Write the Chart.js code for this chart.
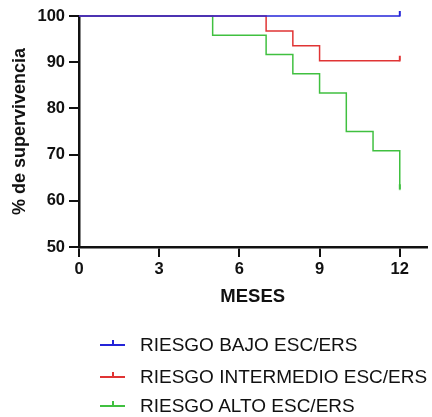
<!DOCTYPE html>
<html>
<head>
<meta charset="utf-8">
<script src="https://cdn.jsdelivr.net/npm/chart.js@4"></script>
<style>
  html, body { margin: 0; padding: 0; background: #fff; }
  #wrap { position: relative; width: 432px; height: 417px; }
  #c { position: absolute; left: 0; top: 0; }
  .leg { position: absolute; left: 100px; height: 24px; display: flex; align-items: center;
         font-family: "Liberation Sans", Arial, sans-serif; font-size: 19px; color: #111; white-space: nowrap; }
  .mk { position: relative; width: 25px; height: 2px; margin-right: 15px; }
  .mk::after { content: ""; position: absolute; left: 12px; top: -4px; width: 2px; height: 5px; background: inherit; }
</style>
</head>
<body>
<div id="wrap">
  <canvas id="c" width="432" height="417"></canvas>
  <div id="legend"></div>
</div>
<script>
// ---- data ----
const seriesNames = ["RIESGO BAJO ESC/ERS", "RIESGO INTERMEDIO ESC/ERS", "RIESGO ALTO ESC/ERS"];
const seriesColors = ["#2424d8", "#e03434", "#40c040"];
const lowTimes  = [0, 12];
const lowSurv   = [100, 100];
const midTimes  = [0, 7, 8, 9, 12];
const midSurv   = [100, 96.77, 93.55, 90.32, 90.32];
const highTimes = [0, 5, 7, 8, 9, 10, 11, 12];
const highSurv  = [100, 95.83, 91.67, 87.5, 83.33, 75, 70.83, 62.5];
const xTicks = [0, 3, 6, 9, 12];
const yTicks = [50, 60, 70, 80, 90, 100];

function pts(t, s) { return t.map((x, i) => ({ x: x, y: s[i] })); }
function tickImg(color) {
  const c = document.createElement('canvas');
  c.width = 4; c.height = 12;
  const g = c.getContext('2d');
  g.fillStyle = color;
  g.fillRect(1, 1, 2, 5.5);
  return c;
}
function lastOnly(n, v, other) { return Array.from({ length: n }, (_, i) => i === n - 1 ? v : other); }

const sets = [
  { t: lowTimes, s: lowSurv },
  { t: midTimes, s: midSurv },
  { t: highTimes, s: highSurv }
];

const datasets = sets.map((d, k) => {
  const n = d.t.length;
  const img = tickImg(seriesColors[k]);
  return {
    label: seriesNames[k],
    data: pts(d.t, d.s),
    borderColor: seriesColors[k],
    backgroundColor: seriesColors[k],
    borderWidth: 1.5,
    stepped: 'before',
    fill: false,
    tension: 0,
    order: k,
    clip: 8,
    pointStyle: lastOnly(n, img, false),
    pointRadius: lastOnly(n, 4, 0),
    pointHoverRadius: 0
  };
});

const FONT = '"Liberation Sans", Arial, sans-serif';

new Chart(document.getElementById('c'), {
  type: 'line',
  data: { datasets: datasets },
  options: {
    responsive: false,
    animation: false,
    events: [],
    layout: { padding: { left: 0, right: 2, top: 16, bottom: 107 } },
    plugins: { legend: { display: false }, tooltip: { enabled: false } },
    scales: {
      x: {
        type: 'linear',
        min: 0, max: 13,
        afterBuildTicks: s => { s.ticks = xTicks.map(v => ({ value: v })); },
        afterFit: s => { s.height = 63; },
        border: { color: '#111', width: 2.5 },
        grid: { display: true, drawOnChartArea: false, drawTicks: true, tickLength: 10, color: '#111', lineWidth: 2 },
        ticks: { color: '#111', padding: 3, font: { family: FONT, size: 16.5, weight: 'bold' }, maxRotation: 0 },
        title: { display: true, text: 'MESES', color: '#111', font: { family: FONT, size: 18.5, weight: 'bold' }, padding: { top: 0, bottom: 2 } }
      },
      y: {
        type: 'linear',
        min: 50, max: 100,
        afterBuildTicks: s => { s.ticks = yTicks.map(v => ({ value: v })); },
        afterFit: s => { s.width = 79; },
        border: { color: '#111', width: 2.5 },
        grid: { display: true, drawOnChartArea: false, drawTicks: true, tickLength: 10, color: '#111', lineWidth: 2 },
        ticks: { color: '#111', padding: 4, font: { family: FONT, size: 16.5, weight: 'bold' } },
        title: { display: true, text: '% de supervivencia', color: '#111', font: { family: FONT, size: 18, weight: 'bold' }, padding: { top: 9, bottom: 0 } }
      }
    }
  }
});

// legend (HTML text)
const legTops = [333, 365, 394];
const legend = document.getElementById('legend');
seriesNames.forEach((name, k) => {
  const row = document.createElement('div');
  row.className = 'leg';
  row.style.top = legTops[k] + 'px';
  const mk = document.createElement('span');
  mk.className = 'mk';
  mk.style.background = seriesColors[k];
  const tx = document.createElement('span');
  tx.textContent = name;
  row.appendChild(mk);
  row.appendChild(tx);
  legend.appendChild(row);
});
</script>
</body>
</html>
